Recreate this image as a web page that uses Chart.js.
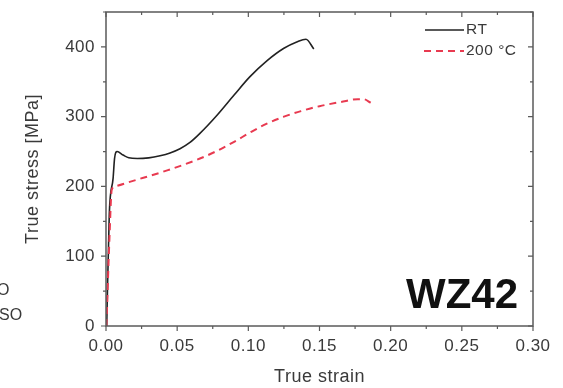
<!DOCTYPE html>
<html>
<head>
<meta charset="utf-8">
<script src="https://cdn.jsdelivr.net/npm/chart.js@4.4.0/dist/chart.umd.min.js"></script>
<style>
body { margin: 0; background: #fff; }
#wrap { width: 563px; height: 388px; }
</style>
</head>
<body>
<div id="wrap"><canvas id="stressChart" width="563" height="388"></canvas></div>
<script>
// room temperature curve
const rtStrain = [0.0005, 0.0023, 0.005, 0.006, 0.0078, 0.012, 0.016, 0.022, 0.030, 0.038, 0.045, 0.052, 0.059, 0.066, 0.078, 0.090, 0.101, 0.113, 0.125, 0.134, 0.1405, 0.146];
const rtStress = [0, 160, 212, 240, 250, 245, 241, 240, 241, 244, 248, 254, 263, 276, 302, 331, 357, 380, 398, 407, 411, 397];

// 200 °C curve
const hotStrain = [0.0003, 0.0025, 0.004, 0.006, 0.019, 0.043, 0.066, 0.078, 0.090, 0.101, 0.113, 0.125, 0.137, 0.150, 0.165, 0.177, 0.181, 0.186];
const hotStress = [0, 130, 195, 200, 208, 223, 240, 251, 264, 277, 290, 300, 308, 315, 321, 325, 325, 320];

const xMajor = [0, 0.05, 0.10, 0.15, 0.20, 0.25, 0.30];
const xMinor = [0.025, 0.075, 0.125, 0.175, 0.225, 0.275];
const yMajor = [0, 100, 200, 300, 400];
const yMinor = [50, 150, 250, 350, 450];

const seriesNames = ['RT', '200 °C'];
const alloyLabel = 'WZ42';

const axisColor = '#5a5a5a';
const textColor = '#3a3a3a';
const redColor = 'rgb(232, 58, 80)';
const fontFamily = '"Liberation Sans", Arial, sans-serif';

function toPoints(xs, ys) {
    return xs.map((x, i) => ({ x: x, y: ys[i] }));
}

// the source figure has slightly wide lettering
const spacing = {
    id: 'spacing',
    beforeLayout(chart) { chart.ctx.letterSpacing = '0.5px'; },
    beforeDraw(chart) { chart.ctx.letterSpacing = '0.5px'; }
};

const frameAndTicks = {
    id: 'frameAndTicks',
    afterDraw(chart) {
        const ctx = chart.ctx;
        const a = chart.chartArea;
        const xs = chart.scales.x;
        const ys = chart.scales.y;
        ctx.save();
        ctx.strokeStyle = axisColor;
        ctx.lineWidth = 1.5;
        ctx.strokeRect(a.left, a.top, a.right - a.left, a.bottom - a.top);
        ctx.lineWidth = 1.2;
        ctx.beginPath();
        xMajor.forEach(v => {
            const p = xs.getPixelForValue(v);
            ctx.moveTo(p, a.bottom); ctx.lineTo(p, a.bottom + 5);
            ctx.moveTo(p, a.top); ctx.lineTo(p, a.top + 5);
        });
        xMinor.forEach(v => {
            const p = xs.getPixelForValue(v);
            ctx.moveTo(p, a.bottom); ctx.lineTo(p, a.bottom + 3);
            ctx.moveTo(p, a.top); ctx.lineTo(p, a.top + 3);
        });
        yMajor.forEach(v => {
            const p = ys.getPixelForValue(v);
            ctx.moveTo(a.left, p); ctx.lineTo(a.left - 5, p);
            ctx.moveTo(a.right, p); ctx.lineTo(a.right - 5, p);
        });
        yMinor.forEach(v => {
            const p = ys.getPixelForValue(v);
            ctx.moveTo(a.left, p); ctx.lineTo(a.left - 3, p);
            ctx.moveTo(a.right, p); ctx.lineTo(a.right - 3, p);
        });
        ctx.stroke();

        // legend
        ctx.lineWidth = 1.6;
        ctx.strokeStyle = '#222';
        ctx.beginPath();
        ctx.moveTo(425, 30); ctx.lineTo(464, 30);
        ctx.stroke();
        ctx.strokeStyle = redColor;
        ctx.lineWidth = 2;
        ctx.setLineDash([7, 5]);
        ctx.beginPath();
        ctx.moveTo(424, 51); ctx.lineTo(464, 51);
        ctx.stroke();
        ctx.setLineDash([]);
        ctx.fillStyle = textColor;
        ctx.font = '15.5px ' + fontFamily;
        ctx.textBaseline = 'middle';
        ctx.textAlign = 'left';
        ctx.fillText(seriesNames[0], 466, 30);
        ctx.fillText(seriesNames[1], 466, 51);

        // alloy label
        ctx.letterSpacing = '0px';
        ctx.fillStyle = '#111';
        ctx.font = 'bold 42px ' + fontFamily;
        ctx.textAlign = 'right';
        ctx.textBaseline = 'alphabetic';
        ctx.fillText(alloyLabel, 518, 308);

        // cut-off text from the neighbouring figure
        ctx.fillStyle = textColor;
        ctx.font = '16px ' + fontFamily;
        ctx.textAlign = 'left';
        ctx.textBaseline = 'middle';
        ctx.fillText('O', -3, 291);
        ctx.fillText('SO', -1, 316);
        ctx.restore();
    }
};

new Chart(document.getElementById('stressChart').getContext('2d'), {
    type: 'line',
    data: {
        datasets: [{
            label: seriesNames[1],
            data: toPoints(hotStrain, hotStress),
            borderColor: redColor,
            borderWidth: 2,
            borderDash: [7, 5],
            pointRadius: 0,
            cubicInterpolationMode: 'monotone',
            fill: false
        }, {
            label: seriesNames[0],
            data: toPoints(rtStrain, rtStress),
            borderColor: '#222',
            borderWidth: 1.6,
            pointRadius: 0,
            cubicInterpolationMode: 'monotone',
            fill: false
        }]
    },
    options: {
        responsive: false,
        animation: false,
        layout: { padding: { top: 12, right: 30, left: 0, bottom: 0 } },
        plugins: {
            legend: { display: false },
            tooltip: { enabled: false }
        },
        scales: {
            x: {
                type: 'linear',
                min: 0,
                max: 0.3,
                grid: { display: false },
                border: { display: false },
                afterBuildTicks: scale => { scale.ticks = xMajor.map(v => ({ value: v })); },
                afterFit: scale => {
                    scale.height = 62;
                    scale.paddingLeft = 0;
                    scale.paddingRight = 0;
                },
                ticks: {
                    color: textColor,
                    font: { family: fontFamily, size: 17 },
                    padding: 2,
                    maxRotation: 0,
                    callback: v => v.toFixed(2)
                },
                title: {
                    display: true,
                    text: 'True strain',
                    color: textColor,
                    font: { family: fontFamily, size: 18, lineHeight: 1 },
                    padding: { top: 0, bottom: 2 }
                }
            },
            y: {
                type: 'linear',
                min: 0,
                max: 450,
                grid: { display: false },
                border: { display: false },
                afterBuildTicks: scale => { scale.ticks = yMajor.map(v => ({ value: v })); },
                afterFit: scale => {
                    scale.width = 106;
                    scale.paddingTop = 0;
                    scale.paddingBottom = 0;
                },
                ticks: {
                    color: textColor,
                    font: { family: fontFamily, size: 17 },
                    padding: 3
                },
                title: {
                    display: true,
                    text: 'True stress [MPa]',
                    color: textColor,
                    font: { family: fontFamily, size: 18, lineHeight: 1 },
                    padding: { top: 24, bottom: 0 }
                }
            }
        }
    },
    plugins: [spacing, frameAndTicks]
});
</script>
</body>
</html>
